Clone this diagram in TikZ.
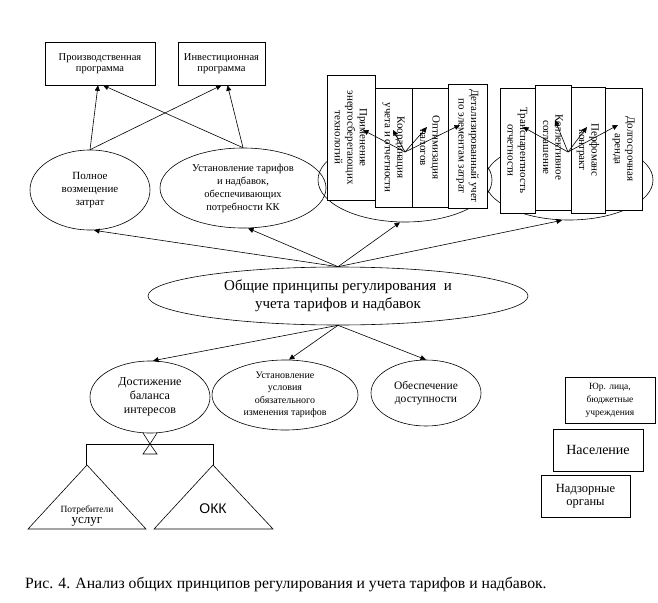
\documentclass[tikz,border=0pt]{standalone}
\usepackage{fontspec}
\setmainfont{Liberation Serif}
\newfontfamily\sansf{Liberation Sans}
\usetikzlibrary{shapes.geometric,arrows.meta}
\newcommand\fz[2]{\fontsize{#1}{#2}\selectfont}
\begin{document}
\begin{tikzpicture}[x=1pt,y=-1pt,
  arr/.style={-{Triangle[length=5.5pt,width=5pt]}, line width=0.6pt},
  box/.style={draw, line width=0.6pt, fill=white, inner sep=1pt, align=center},
  ell/.style={draw, ellipse, line width=0.6pt, inner sep=0pt, align=center},
  vbox/.style={box, rotate=-90, font=\fz{11}{12.5}},
  ln/.style={line width=0.6pt}]
\useasboundingbox[fill=white] (0,0) rectangle (658,602);

% top boxes
\node[box, minimum width=110pt, minimum height=43pt, font=\fz{10.5}{11.5}] (pp) at (100,63.5) {Производственная\\программа};
\node[box, minimum width=87pt, minimum height=43pt, font=\fz{10.5}{11.5}] (ip) at (221.5,63.5) {Инвестиционная\\программа};

% top ellipses
\node[ell, minimum width=120pt, minimum height=80pt, font=\fz{11}{13}] (el1) at (90,190) {Полное\\возмещение\\затрат};
\node[ell, minimum width=166pt, minimum height=80pt, font=\fz{10.5}{13}] (el2) at (243,188) {Установление тарифов\\и надбавок,\\обеспечивающих\\потребности КК};

% group ellipses
\node[ell, minimum width=174pt, minimum height=84pt] (e2) at (405,180) {};
\node[ell, minimum width=168pt, minimum height=80pt] (e3) at (569,180) {};

% group 2 boxes
\node[vbox, minimum width=125pt, minimum height=48pt] (bA) at (351,137.5) {Применение\\энергосберегающих\\технологий};
\node[vbox, minimum width=119pt, minimum height=37pt] (bB) at (393.5,147.5) {Координация\\учета и отчетности};
\node[vbox, minimum width=119pt, minimum height=36pt] (bC) at (430,147.5) {Оптимизация\\налогов};
\node[vbox, minimum width=124pt, minimum height=39pt] (bD) at (467.5,146) {Детализированный учет\\по элементам затрат};

% group 3 boxes
\node[vbox, minimum width=125pt, minimum height=35pt] (bE) at (517.5,150.5) {Транспарентность\\отчетности};
\node[vbox, minimum width=125pt, minimum height=36pt] (bF) at (553,147.5) {Коллективное\\соглашение};
\node[vbox, minimum width=126pt, minimum height=34pt] (bG) at (588,150) {Перфоманс\\контракт};
\node[vbox, minimum width=122pt, minimum height=37pt] (bH) at (623.5,149) {Долгосрочная\\аренда};

% hubs
\coordinate (h2) at (405,152);
\coordinate (tA) at (363,130);
\coordinate (tB) at (393,130);
\coordinate (tC) at (427,127);
\coordinate (tD) at (460,125);
\coordinate (h3) at (568,152);
\coordinate (tE) at (523,127);
\coordinate (tF) at (555,120);
\coordinate (tG) at (587,127);
\coordinate (tH) at (618,125);
\foreach \t in {tA,tB,tC,tD} \draw[arr] (h2) -- (\t);
\foreach \t in {tE,tF,tG,tH} \draw[arr] (h3) -- (\t);

% central ellipse
\node[ell, minimum width=380pt, minimum height=58pt, font=\fz{15}{18}] (c) at (338,296) {Общие принципы регулирования~ и\\учета тарифов и надбавок};

% bottom ellipses
\node[ell, minimum width=120pt, minimum height=72pt, font=\fz{12}{14}] (b1) at (150,397) {Достижение\\баланса\\интересов};
\node[ell, minimum width=146pt, minimum height=70pt, font=\fz{10}{12.5}] (b2) at (285,395) {Установление\\условия\\обязательного\\изменения тарифов};
\node[ell, minimum width=110pt, minimum height=66pt, font=\fz{11.5}{13.5}] (b3) at (426,393) {Обеспечение\\доступности};

% arrows top
\draw[arr] (el1.north) -- ([xshift=-2pt]pp.south);
\draw[arr] (el1.north) -- (ip.south);
\draw[arr] (el2.north) -- ([xshift=6pt]ip.south);
\draw[arr] (el2.north) -- ([xshift=3pt]pp.south);

% arrows from central ellipse
\draw[arr] (c.north) -- ([xshift=4pt]el1.south);
\draw[arr] (c.north) -- ([xshift=5pt]el2.south);
\draw[arr] (c.north) -- ([xshift=-5pt]e2.south);
\draw[arr] (c.north) -- ([xshift=-7pt]e3.south);
\draw[arr] (c.south) -- ([xshift=3pt]b1.north);
\draw[arr] (c.south) -- ([xshift=4pt]b2.north);
\draw[arr] (c.south) -- (b3.north);

% scales
\coordinate (piv) at (150,444);
\draw[ln] (143,433) -- (piv) -- (157,433);
\draw[ln] (piv) -- (143,454) -- (157,454) -- cycle;
\coordinate (bl) at (86,444);
\coordinate (br) at (213,444);
\draw[ln] (86,465) -- (bl) -- (br) -- (213,465);
\draw[ln] (87,465) -- (28,529) -- (146,529) -- cycle;
\draw[ln] (213,465) -- (154,529) -- (273,529) -- cycle;
\node[font=\fz{9.5}{10}] (potr) at (87,510) {Потребители};
\node[font=\fz{13}{14}] (usl) at (87,522) {услуг};
\node[font=\sansf\fz{14}{16}] (okk) at (213,509) {ОКК};

% right boxes
\node[box, minimum width=90pt, minimum height=46pt, font=\fz{9.5}{13}] (yur) at (610,400) {Юр. лица,\\бюджетные\\учреждения};
\node[box, minimum width=90pt, minimum height=42pt, font=\fz{14}{16}] (nas) at (598,450) {Население};
\node[box, minimum width=89pt, minimum height=42pt, font=\fz{12.5}{13}] (nad) at (585.5,496) {Надзорные\\органы};

% caption
\node[anchor=west, inner sep=0pt, font=\fz{15.7}{18}] (cap) at (25,585) {Рис. 4. Анализ общих принципов регулирования и учета тарифов и надбавок.};
\end{tikzpicture}
\end{document}
